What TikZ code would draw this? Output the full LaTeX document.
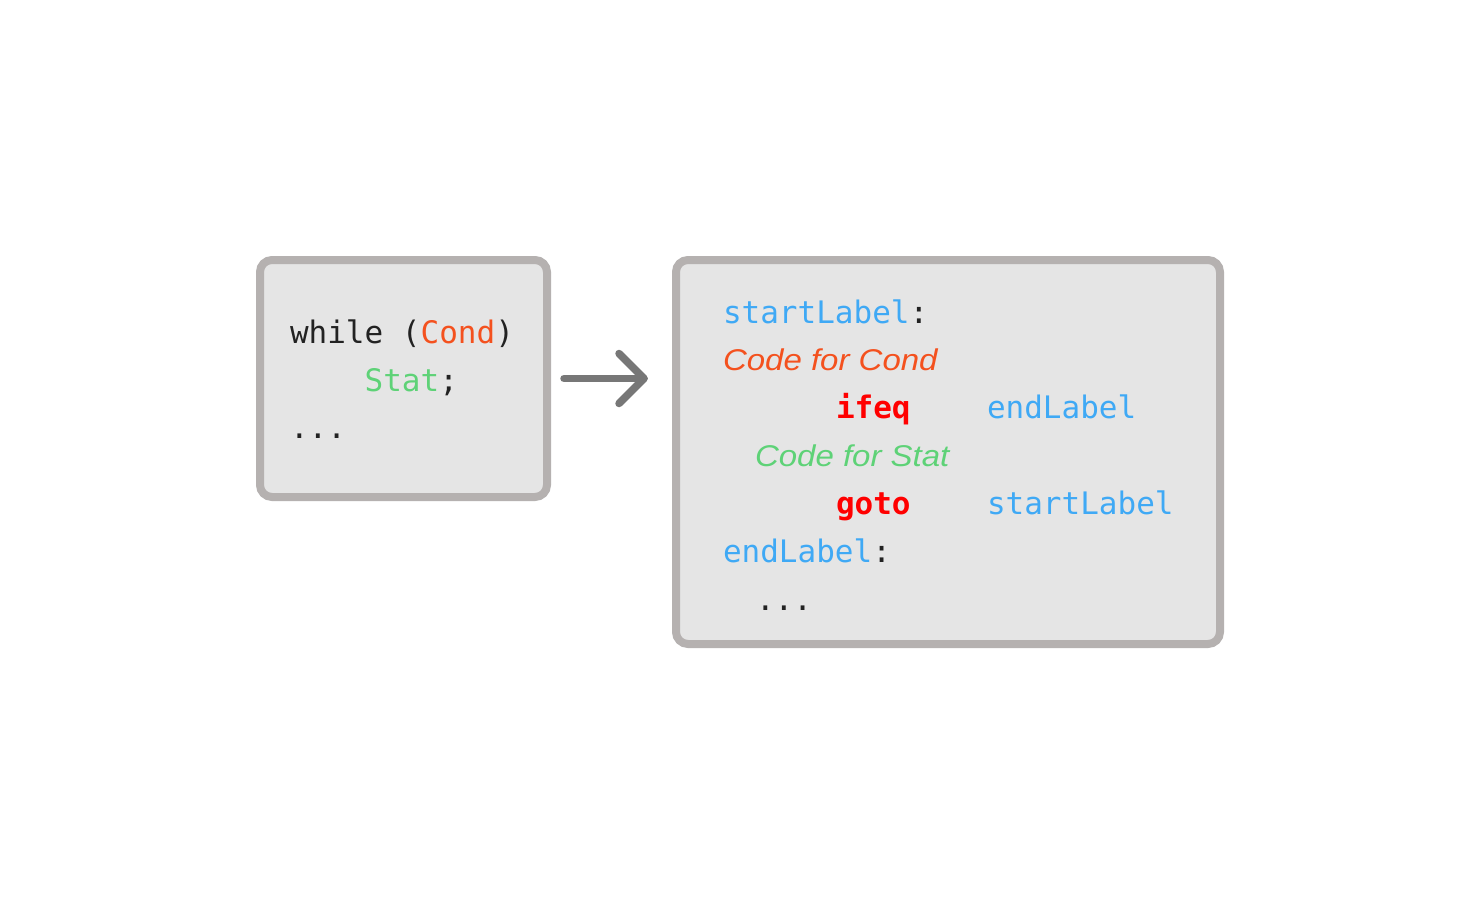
\documentclass[tikz,border=0pt]{standalone}
\usepackage{fontspec}
\setmonofont{DejaVu Sans Mono}
\newfontfamily\itfont[FakeStretch=1.1]{Liberation Sans}
\usetikzlibrary{calc}
\definecolor{boxfill}{HTML}{E5E5E5}
\definecolor{boxline}{HTML}{B5B1B0}
\definecolor{arrowgray}{HTML}{777777}
\definecolor{lblue}{HTML}{3FA9F5}
\definecolor{condred}{HTML}{F4511E}
\definecolor{statgreen}{HTML}{5ED277}
\definecolor{kwred}{HTML}{FF0000}
\definecolor{txtblack}{HTML}{222222}
\tikzset{
  codebox/.style={draw=boxline, fill=boxfill, line width=8pt, rounded corners=12pt, outer sep=0pt, inner sep=0pt},
  code/.style={anchor=base west, inner sep=0pt, outer sep=0pt, font=\fontsize{31}{36}\selectfont\ttfamily},
  itcode/.style={anchor=base west, inner sep=0pt, outer sep=0pt, font=\fontsize{30}{36}\selectfont\itfont\itshape},
  flow/.style={draw=arrowgray, line width=7.5pt, line cap=round, line join=round}
}
\begin{document}
\begin{tikzpicture}[x=1pt, y=-1pt]
\useasboundingbox[fill=white] (0,0) rectangle (1480,904);
\node[codebox, minimum width=287pt, minimum height=237pt] (lb) at (403.5,378.5) {};
\node[codebox, minimum width=544pt, minimum height=384pt] (rb) at (948,452) {};
% left code
\node[code, text=txtblack] (l1) at (290,343) {while (\textcolor{condred}{Cond})};
\node[code, text=txtblack] (l2) at (290,391) {\phantom{xxxx}\textcolor{statgreen}{Stat};};
\node[code, text=txtblack] (l3) at (290,438) {...};
% right code
\node[code, text=txtblack] (r1) at (723,323) {\textcolor{lblue}{startLabel}:};
\node[itcode, text=condred] (r2) at (723,370) {Code for Cond};
\node[code, text=kwred] (r3a) at (836,418) {\textbf{ifeq}};
\node[code, text=lblue] (r3b) at (987,418) {endLabel};
\node[itcode, text=statgreen] (r4) at (755,466) {Code for Stat};
\node[code, text=kwred] (r5a) at (836,514) {\textbf{goto}};
\node[code, text=lblue] (r5b) at (987,514) {startLabel};
\node[code, text=txtblack] (r6) at (723,562) {\textcolor{lblue}{endLabel}:};
\node[code, text=txtblack] (r7) at (756,610) {...};
% arrow
\coordinate (as) at ($(lb.east)+(17,0)$);
\coordinate (ae) at ($(lb.east -| rb.west)+(-32,0)$);
\draw[flow] (as) -- (ae);
\draw[flow] ($(ae)+(-25,-25)$) -- (ae) -- ($(ae)+(-25,25)$);
\end{tikzpicture}
\end{document}
